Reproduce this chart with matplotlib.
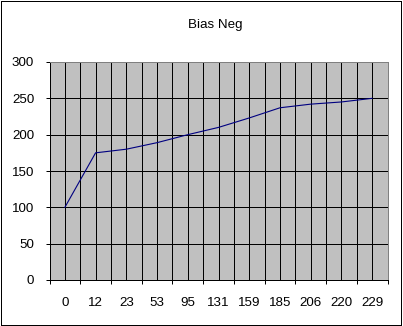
import matplotlib
matplotlib.use('Agg')
import matplotlib.pyplot as plt
from matplotlib.patches import Rectangle

# chart data
categories = ['0', '12', '23', '53', '95', '131', '159', '185', '206', '220', '229']
bias_neg = [100, 175, 180, 189, 200, 210, 223, 237, 242, 245, 250]
y_ticks = [0, 50, 100, 150, 200, 250, 300]

plt.rcParams['font.family'] = ['Liberation Sans', 'DejaVu Sans']
plt.rcParams['font.size'] = 9.6

W, H = 403, 326
PX = 0.72  # one pixel in points at 100 dpi
fig = plt.figure(figsize=(W / 100, H / 100), dpi=100)
fig.patch.set_facecolor('white')

# plot area (pixel box from the reference)
left, right, top, bottom = 49.5, 387.5, 62, 280
ax = fig.add_axes([left / W, 1 - bottom / H, (right - left) / W, (bottom - top) / H])
ax.set_facecolor('#c0c0c0')

x = list(range(len(categories)))
ax.plot(x, bias_neg, color='#000080', linewidth=0.8, zorder=3)

ax.set_xlim(-0.5, len(categories) - 0.5)
ax.set_ylim(0, 300)

# category boundaries carry the tick marks, centres carry the labels
bounds = [i - 0.5 for i in range(len(categories) + 1)]
ax.set_xticks(bounds)
ax.set_xticklabels([])
ax.set_xticks(x, minor=True)
ax.set_xticklabels(categories, minor=True)
ax.tick_params(axis='x', which='major', direction='out', length=3, width=PX, color='black')
ax.tick_params(axis='x', which='minor', length=0, pad=12)

ax.set_yticks(y_ticks)
ax.tick_params(axis='y', direction='out', length=3, width=PX, color='black', pad=8)

# gridlines: black, at every boundary and every category centre
for b in bounds[1:-1]:
    ax.axvline(b, color='black', linewidth=PX, antialiased=False, zorder=1)
for c in x:
    ax.axvline(c, color='black', linewidth=PX, antialiased=False, zorder=1)
for yv in y_ticks[1:-1]:
    ax.axhline(yv, color='black', linewidth=PX, antialiased=False, zorder=1)

ax.spines['left'].set_color('black')
ax.spines['bottom'].set_color('black')
ax.spines['top'].set_color('#808080')
ax.spines['right'].set_color('#808080')
for s in ax.spines.values():
    s.set_linewidth(PX)

fig.text(215 / W, 1 - 25 / H, 'Bias Neg', ha='center', va='center', fontsize=9.6)

# outer chart border
fig.add_artist(Rectangle((0.5 / W, 1.5 / H), 400.5 / W, 323.5 / H, transform=fig.transFigure,
                         fill=False, edgecolor='black', linewidth=PX, antialiased=False))

fig.savefig('out.png', dpi=100)
